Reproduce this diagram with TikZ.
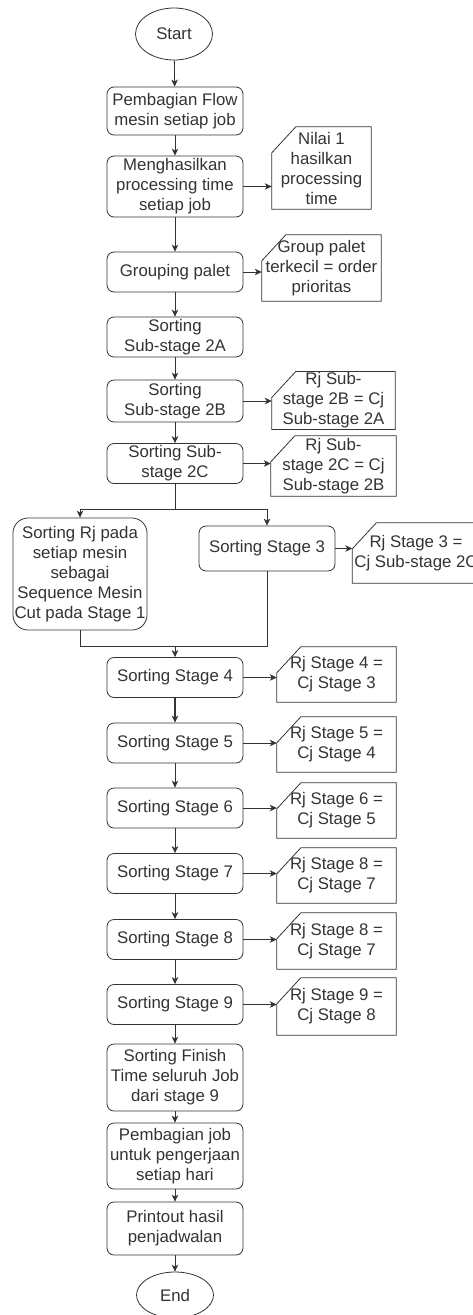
\documentclass[tikz,border=0pt]{standalone}
\usepackage{fontspec}
\setmainfont{Liberation Sans}
\usepackage{xcolor}
\usetikzlibrary{shapes.geometric, arrows.meta, calc, positioning}

\definecolor{ink}{HTML}{333333}

\begin{document}
\begin{tikzpicture}[
    x=1pt, y=-1pt,
    color=ink,
    font=\fontsize{16.8}{20}\selectfont,
    >={Stealth[length=7pt, width=6.5pt, inset=2pt]},
    terminal/.style={ellipse, draw, line width=0.8pt, minimum width=77pt, minimum height=52pt, inner sep=0pt},
    process/.style={rectangle, rounded corners=7pt, draw, line width=0.8pt, minimum width=136pt, minimum height=40pt, align=center, inner sep=1pt},
    note/.style={rectangle, align=center, inner sep=1pt,
        append after command={\pgfextra{\draw[line width=0.8pt]
            ([yshift=-26pt]\tikzlastnode.north west) -- ([xshift=24pt]\tikzlastnode.north west)
            -- (\tikzlastnode.north east) -- (\tikzlastnode.south east)
            -- (\tikzlastnode.south west) -- cycle;}}},
    arrow/.style={->, line width=0.8pt}
]
\useasboundingbox (0,0) rectangle (473,1315);

% Start dan tahap awal
\node[terminal] (start) at (174,34) {Start};
\node[process, minimum height=48pt] (flow) at (175,111) {Pembagian Flow\\mesin setiap job};
\node[process, minimum height=61pt] (ptime) at (175,186.5) {Menghasilkan\\processing time\\setiap job};
\node[process] (group) at (175,272) {Grouping palet};
\node[process] (sub2a) at (175,337) {Sorting\\Sub-stage 2A};
\node[process, minimum height=42pt] (sub2b) at (175,401) {Sorting\\Sub-stage 2B};
\node[process] (sub2c) at (175,463.5) {Sorting Sub-\\stage 2C};

% Cabang stage 1 dan stage 3
\node[process, rounded corners=15pt, minimum width=134pt, minimum height=112pt] (stage1) at (80,574) {Sorting Rj pada\\setiap mesin\\sebagai\\Sequence Mesin\\Cut pada Stage 1};
\node[process, minimum height=45pt] (stage3) at (267,548.5) {Sorting Stage 3};

% Stage 4 sampai 9
\node[process] (stage4) at (175,677.5) {Sorting Stage 4};
\node[process] (stage5) at (175,743) {Sorting Stage 5};
\node[process] (stage6) at (175,808) {Sorting Stage 6};
\node[process] (stage7) at (175,873.5) {Sorting Stage 7};
\node[process] (stage8) at (175,939.5) {Sorting Stage 8};
\node[process] (stage9) at (175,1004.5) {Sorting Stage 9};

% Tahap akhir
\node[process, minimum height=67pt] (finish) at (175,1077.5) {Sorting Finish\\Time seluruh Job\\dari stage 9};
\node[process, minimum height=66pt] (perhari) at (175,1156) {Pembagian job\\untuk pengerjaan\\setiap hari};
\node[process, minimum height=53pt] (printout) at (175,1228.5) {Printout hasil\\penjadwalan};
\node[terminal, minimum height=46pt] (end) at (175,1295) {End};

% Catatan
\node[note, minimum width=99pt, minimum height=82pt] (nilai) at (321.5,168) {Nilai 1\\hasilkan\\processing\\time};
\node[note, minimum width=119pt, minimum height=66pt] (prior) at (321.5,268) {Group palet\\terkecil = order\\prioritas};
\node[note, minimum width=123pt, minimum height=55pt] (rj2b) at (333.5,400.5) {Rj Sub-\\stage 2B = Cj\\Sub-stage 2A};
\node[note, minimum width=125pt, minimum height=60pt] (rj2c) at (333.5,466) {Rj Sub-\\stage 2C = Cj\\Sub-stage 2B};
\node[note, minimum width=127pt, minimum height=60pt] (rj3) at (416,553) {Rj Stage 3 =\\Cj Sub-stage 2C};
\node[note, minimum width=119pt, minimum height=55pt] (rj4) at (336.5,674.5) {Rj Stage 4 =\\Cj Stage 3};
\node[note, minimum width=119pt, minimum height=55pt] (rj5) at (336.5,744.5) {Rj Stage 5 =\\Cj Stage 4};
\node[note, minimum width=119pt, minimum height=55pt] (rj6) at (336.5,810.5) {Rj Stage 6 =\\Cj Stage 5};
\node[note, minimum width=119pt, minimum height=55pt] (rj7) at (336.5,875.5) {Rj Stage 8 =\\Cj Stage 7};
\node[note, minimum width=119pt, minimum height=56pt] (rj8) at (336.5,941) {Rj Stage 8 =\\Cj Stage 7};
\node[note, minimum width=119pt, minimum height=57pt] (rj9) at (336.5,1006.5) {Rj Stage 9 =\\Cj Stage 8};

% Alur utama
\draw[arrow] (start) -- (flow);
\draw[arrow] (flow) -- (ptime);
\draw[arrow] (ptime) -- (group);
\draw[arrow] (group) -- (sub2a);
\draw[arrow] (sub2a) -- (sub2b);
\draw[arrow] (sub2b) -- (sub2c);

\coordinate (split) at (175,509);
\draw[line width=0.8pt] (sub2c) -- (split);
\draw[arrow] (split) -| (stage1);
\draw[arrow] (split) -| (stage3);

\coordinate (merge) at (175,646);
\draw[line width=0.8pt] (stage1) |- (merge);
\draw[line width=0.8pt] (stage3) |- (merge);
\draw[arrow] (merge) -- (stage4);

\draw[arrow, line width=1.6pt] (stage4) -- (stage5);
\draw[arrow] (stage5) -- (stage6);
\draw[arrow] (stage6) -- (stage7);
\draw[arrow] (stage7) -- (stage8);
\draw[arrow] (stage8) -- (stage9);
\draw[arrow] (stage9) -- (finish);
\draw[arrow] (finish) -- (perhari);
\draw[arrow] (perhari) -- (printout);
\draw[arrow] (printout) -- (end);

% Panah ke catatan
\draw[arrow] (ptime.east) -- (nilai.west |- ptime.east);
\draw[arrow] (group.east) -- (prior.west |- group.east);
\draw[arrow] (sub2b.east) -- (rj2b.west |- sub2b.east);
\draw[arrow] (sub2c.east) -- (rj2c.west |- sub2c.east);
\draw[arrow] (stage3.east) -- (rj3.west |- stage3.east);
\draw[arrow] (stage4.east) -- (rj4.west |- stage4.east);
\draw[arrow] (stage5.east) -- (rj5.west |- stage5.east);
\draw[arrow] (stage6.east) -- (rj6.west |- stage6.east);
\draw[arrow] (stage7.east) -- (rj7.west |- stage7.east);
\draw[arrow] (stage8.east) -- (rj8.west |- stage8.east);
\draw[arrow] (stage9.east) -- (rj9.west |- stage9.east);

\end{tikzpicture}
\end{document}
